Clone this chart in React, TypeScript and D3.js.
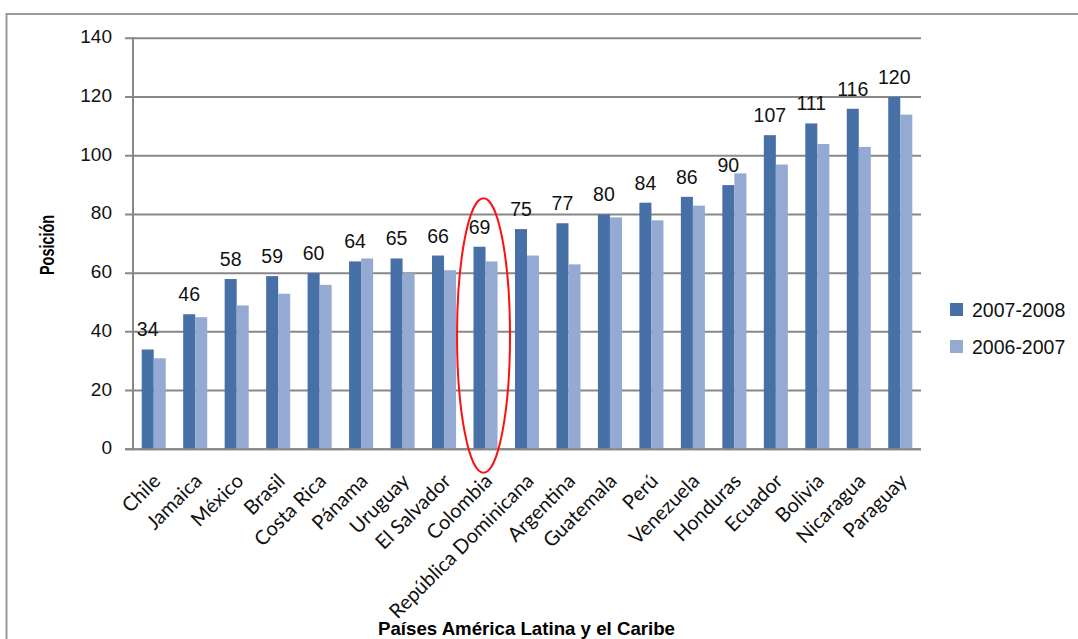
import React, { useRef, useEffect } from 'react';
import * as d3 from 'd3';

const categories = [
  'Chile', 'Jamaica', 'México', 'Brasil', 'Costa Rica', 'Pánama', 'Uruguay',
  'El Salvador', 'Colombia', 'República Dominicana', 'Argentina', 'Guatemala',
  'Perú', 'Venezuela', 'Honduras', 'Ecuador', 'Bolivia', 'Nicaragua', 'Paraguay',
];
const values0708 = [34, 46, 58, 59, 60, 64, 65, 66, 69, 75, 77, 80, 84, 86, 90, 107, 111, 116, 120];
const values0607 = [31, 45, 49, 53, 56, 65, 60, 61, 64, 66, 63, 79, 78, 83, 94, 97, 104, 103, 114];
const seriesNames = ['2007-2008', '2006-2007'];
const yTicks = [0, 20, 40, 60, 80, 100, 120, 140];
// red ring drawn around one country, in data units
const highlightCategory = 'Colombia';
const highlightRange = [-8, 85.5];

const colors = ['#4770a7', '#95aad2'];
const gridColor = '#888888';

const App = () => {
  const ref = useRef<SVGSVGElement>(null);

  useEffect(() => {
    const width = 1078;
    const height = 639;
    const left = 133;
    const right = 921;
    const top = 38.3;
    const bottom = 449.3;

    const svg = d3.select(ref.current);
    svg.selectAll('*').remove();

    svg.append('rect')
      .attr('x', 6.5).attr('y', 14)
      .attr('width', width + 100).attr('height', height + 100)
      .attr('fill', 'none').attr('stroke', '#9a9a9a').attr('stroke-width', 2);

    const x0 = d3.scaleBand<string>()
      .domain(categories)
      .range([left, right])
      .paddingInner(0.42)
      .paddingOuter(0.21);
    const x1 = d3.scaleBand<number>()
      .domain([0, 1])
      .range([0, x0.bandwidth()]);
    const y = d3.scaleLinear().domain([0, 140]).range([bottom, top]);

    // gridlines + ticks
    svg.append('g')
      .selectAll('line')
      .data(yTicks)
      .join('line')
      .attr('x1', left - 8).attr('x2', right)
      .attr('y1', d => y(d)).attr('y2', d => y(d))
      .attr('stroke', gridColor).attr('stroke-width', 2);

    svg.append('g')
      .attr('font-family', '"Liberation Sans", Arial, sans-serif')
      .attr('font-size', 19)
      .attr('fill', '#111')
      .selectAll('text')
      .data(yTicks)
      .join('text')
      .attr('x', left - 21)
      .attr('y', d => y(d) + 5)
      .attr('text-anchor', 'end')
      .text(d => d);

    const rows = categories.map((c, i) => ({ c, v: [values0708[i], values0607[i]] }));

    const groups = svg.append('g')
      .selectAll('g')
      .data(rows)
      .join('g')
      .attr('transform', d => `translate(${x0(d.c)},0)`);

    groups.selectAll('rect')
      .data(d => d.v.map((v, k) => ({ v, k })))
      .join('rect')
      .attr('x', d => x1(d.k)!)
      .attr('width', x1.bandwidth())
      .attr('y', d => y(d.v))
      .attr('height', d => y(0) - y(d.v))
      .attr('fill', d => colors[d.k]);

    // axis lines on top
    svg.append('line')
      .attr('x1', left).attr('x2', left)
      .attr('y1', top - 1).attr('y2', bottom + 1)
      .attr('stroke', gridColor).attr('stroke-width', 2);
    svg.append('line')
      .attr('x1', left - 8).attr('x2', right)
      .attr('y1', y(0)).attr('y2', y(0))
      .attr('stroke', gridColor).attr('stroke-width', 2);

    // value labels above the 2007-2008 bars
    svg.append('g')
      .attr('font-family', '"Liberation Sans", Arial, sans-serif')
      .attr('font-size', 19.5)
      .attr('fill', '#111')
      .selectAll('text')
      .data(rows)
      .join('text')
      .attr('x', d => x0(d.c)! + x1(0)! + x1.bandwidth() / 2)
      .attr('y', d => y(d.v[0]) - 13)
      .attr('text-anchor', 'middle')
      .text(d => d.v[0]);

    // category labels
    svg.append('g')
      .attr('font-family', 'Lato, "Open Sans", sans-serif')
      .attr('font-size', 20)
      .attr('fill', '#111')
      .selectAll('text')
      .data(categories)
      .join('text')
      .attr('transform', d => `translate(${x0(d)! + x0.bandwidth() / 2 + 8},${bottom + 33}) rotate(-45)`)
      .attr('text-anchor', 'end')
      .text(d => d);

    // highlight ellipse
    const hx = x0(highlightCategory)! + x0.bandwidth() / 2 - 2;
    svg.append('ellipse')
      .attr('cx', hx)
      .attr('cy', (y(highlightRange[0]) + y(highlightRange[1])) / 2)
      .attr('rx', 26.5)
      .attr('ry', (y(highlightRange[0]) - y(highlightRange[1])) / 2)
      .attr('fill', 'none')
      .attr('stroke', '#ff1010')
      .attr('stroke-width', 2);

    // axis titles
    svg.append('text')
      .attr('x', 526.5).attr('y', 635)
      .attr('text-anchor', 'middle')
      .attr('font-family', '"Liberation Sans", Arial, sans-serif')
      .attr('font-weight', 'bold')
      .attr('font-size', 19)
      .attr('textLength', 297)
      .attr('lengthAdjust', 'spacingAndGlyphs')
      .text('Países América Latina y el Caribe');

    svg.append('text')
      .attr('transform', 'translate(54,245) rotate(-90)')
      .attr('text-anchor', 'middle')
      .attr('font-family', '"Liberation Sans", Arial, sans-serif')
      .attr('font-weight', 'bold')
      .attr('font-size', 20)
      .attr('textLength', 60)
      .attr('lengthAdjust', 'spacingAndGlyphs')
      .text('Posición');

    // legend
    const legend = svg.append('g')
      .selectAll('g')
      .data(seriesNames)
      .join('g')
      .attr('transform', (d, i) => `translate(950,${303 + i * 37})`);
    legend.append('rect')
      .attr('width', 13).attr('height', 13)
      .attr('fill', (d, i) => colors[i]);
    legend.append('text')
      .attr('x', 22).attr('y', 14)
      .attr('font-family', '"Liberation Sans", Arial, sans-serif')
      .attr('font-size', 19.5)
      .attr('fill', '#111')
      .text(d => d);
  }, []);

  return (
    <svg
      ref={ref}
      width={1078}
      height={639}
      style={{ position: 'absolute', left: 0, top: 0, background: '#fff' }}
    />
  );
};

export default App;
